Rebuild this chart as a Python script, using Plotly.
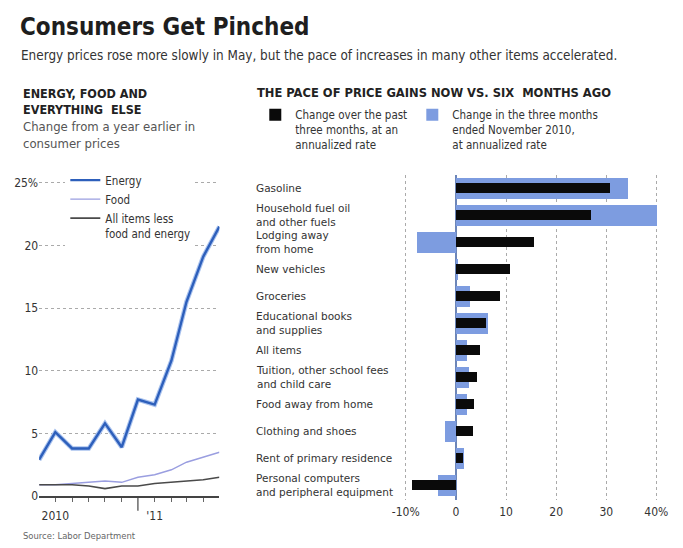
import plotly.graph_objects as go

W, H = 683, 548
def px(x): return x / W
def py(y): return 1 - y / H

FONT = "Liberation Sans Narrow, DejaVu Sans Condensed, Arial Narrow, Liberation Sans, sans-serif"
WIDE = "DejaVu Sans, Verdana, sans-serif"

# ---- Left chart data (year-over-year change, %) ----
months = ["2010-06-01", "2010-07-01", "2010-08-01", "2010-09-01", "2010-10-01", "2010-11-01",
          "2010-12-01", "2011-01-01", "2011-02-01", "2011-03-01", "2011-04-01", "2011-05-01"]
energy = [2.9, 5.1, 3.8, 3.8, 5.8, 3.9, 7.7, 7.3, 10.8, 15.5, 19.1, 21.5]
food = [0.9, 0.9, 1.0, 1.1, 1.2, 1.1, 1.5, 1.7, 2.1, 2.7, 3.1, 3.5]
core = [0.9, 0.9, 0.9, 0.8, 0.6, 0.8, 0.8, 1.0, 1.1, 1.2, 1.3, 1.5]
left_yticks = [0, 5, 10, 15, 20, 25]
left_ytext = ["0", "5", "10", "15", "20", "25%"]
left_xticks = ["2010-07-01", "2010-08-01", "2010-09-01", "2010-10-01", "2010-11-01",
               "2011-01-01", "2011-02-01", "2011-03-01", "2011-04-01"]
left_xtext = ["2010", "", "", "", "", "'11", "", "", ""]

# ---- Right chart data (annualized % change) ----
categories = ["Gasoline", "Household fuel oil<br>and other fuels", "Lodging away<br>from home",
              "New vehicles", "Groceries", "Educational books<br>and supplies", "All items",
              "Tuition, other school fees<br>and child care", "Food away from home",
              "Clothing and shoes", "Rent of primary residence",
              "Personal computers<br>and peripheral equipment"]
recent = [30.7, 26.8, 15.5, 10.8, 8.7, 6.0, 4.8, 4.1, 3.6, 3.3, 1.3, -8.9]
nov2010 = [34.2, 40.0, -7.8, 0.3, 2.7, 6.3, 2.2, 2.6, 2.2, -2.3, 1.5, -3.7]
right_xticks = [-10, 0, 10, 20, 30, 40]
right_xtext = ["-10%", "0", "10", "20", "30", "40%"]

BLUE_BAR = "#7d9ce0"

fig = go.Figure()

# light halo under the energy line
fig.add_trace(go.Scatter(x=months, y=energy, mode="lines", showlegend=False, hoverinfo="skip",
                         line=dict(color="#a9c2ee", width=4.6), xaxis="x", yaxis="y"))
fig.add_trace(go.Scatter(x=months, y=energy, mode="lines", name="Energy",
                         line=dict(color="#2d5fbb", width=2.4), xaxis="x", yaxis="y",
                         legend="legend"))
fig.add_trace(go.Scatter(x=months, y=food, mode="lines", name="Food",
                         line=dict(color="#9a9ee0", width=1.4), xaxis="x", yaxis="y",
                         legend="legend"))
fig.add_trace(go.Scatter(x=months, y=core, mode="lines",
                         name="All items less<br>food and energy",
                         line=dict(color="#4a4a4a", width=1.6), xaxis="x", yaxis="y",
                         legend="legend"))

fig.add_trace(go.Bar(y=categories, x=nov2010, orientation="h", width=0.78,
                     marker=dict(color=BLUE_BAR, line=dict(width=0)),
                     name="Change in the three months<br>ended November 2010,<br>at annualized rate",
                     xaxis="x2", yaxis="y2", legend="legend3"))
fig.add_trace(go.Bar(y=categories, x=recent, orientation="h", width=0.37,
                     marker=dict(color="#0a0a0a", line=dict(width=0)),
                     name="Change over the past<br>three months, at an<br>annualized rate",
                     xaxis="x2", yaxis="y2", legend="legend2"))

annotations = [
    dict(text="<b>Consumers Get Pinched</b>", x=px(6), y=py(22), xref="paper", yref="paper",
         xanchor="left", yanchor="middle", showarrow=False,
         font=dict(family=FONT, size=24, color="#1e1e1e")),
    dict(text="Energy prices rose more slowly in May, but the pace of increases in many other items accelerated.",
         x=px(7), y=py(51), xref="paper", yref="paper", xanchor="left", yanchor="middle",
         showarrow=False, font=dict(family=FONT, size=13.4, color="#333")),
    dict(text="<b>ENERGY, FOOD AND<br>EVERYTHING  ELSE</b>", x=px(9), y=py(80),
         xref="paper", yref="paper", xanchor="left", yanchor="top", align="left",
         showarrow=False, font=dict(family=FONT, size=12.5, color="#222")),
    dict(text="Change from a year earlier in<br>consumer prices", x=px(9), y=py(114),
         xref="paper", yref="paper", xanchor="left", yanchor="top", align="left",
         showarrow=False, font=dict(family=FONT, size=13, color="#555")),
    dict(text="<b>THE PACE OF PRICE GAINS NOW VS. SIX  MONTHS AGO</b>", x=px(251), y=py(89),
         xref="paper", yref="paper", xanchor="left", yanchor="middle",
         showarrow=False, font=dict(family=FONT, size=12.8, color="#222")),
    dict(text="Source: Labor Department", x=px(9), y=py(542), xref="paper", yref="paper",
         xanchor="left", yanchor="middle", showarrow=False,
         font=dict(family=FONT, size=9.4, color="#666")),
]
for c in categories:
    annotations.append(dict(text=c, x=px(250), y=c, xref="paper", yref="y2",
                            xanchor="left", yanchor="middle", align="left", showarrow=False,
                            font=dict(family=WIDE, size=10.5, color="#333")))

shapes = [
    dict(type="line", xref="x", yref="paper", x0="2010-12-01", x1="2010-12-01",
         y0=py(502), y1=py(517), line=dict(color="#444", width=1.2)),
]

leg_common = dict(xanchor="left", yanchor="top",
                  font=dict(size=11.5, color="#333"), tracegroupgap=0, itemwidth=30,
                  traceorder="normal", valign="top")

fig.update_layout(
    width=W, height=H, margin=dict(l=0, r=0, t=0, b=0),
    paper_bgcolor="white", plot_bgcolor="white",
    font=dict(family=FONT, color="#333"),
    barmode="overlay", bargap=0,
    annotations=annotations, shapes=shapes,
    xaxis=dict(domain=[px(28), px(214)], type="date", range=[months[0], months[-1]],
               tickvals=left_xticks, ticktext=left_xtext, ticks="outside", ticklen=4,
               tickcolor="#666", showgrid=False, showline=True, linecolor="#444",
               linewidth=1.5, zeroline=False, tickfont=dict(size=12, color="#333"),
               ticklabelstandoff=4, anchor="y"),
    yaxis=dict(domain=[py(502), py(179.7)], range=[0, 25.1], tickvals=left_yticks,
               ticktext=left_ytext, showgrid=True, gridcolor="#aaa", griddash="dot",
               gridwidth=1, zeroline=False, showline=False, ticks="",
               tickfont=dict(size=12, color="#333"), anchor="x"),
    xaxis2=dict(domain=[px(404), px(668)], range=[-10.44, 40.62], tickvals=right_xticks,
                ticktext=right_xtext, showgrid=True, gridcolor="#aaa", griddash="dot",
                gridwidth=1, zeroline=True, zerolinecolor="#6d86b8", zerolinewidth=1.5,
                showline=False, ticks="", tickfont=dict(size=12, color="#333"),
                ticklabelstandoff=3, anchor="y2"),
    yaxis2=dict(domain=[py(506), py(173)], type="category", categoryorder="array",
                categoryarray=categories, autorange="reversed", showticklabels=False,
                showgrid=False, zeroline=False, showline=False, ticks="", anchor="x2"),
    legend=dict(x=px(55), y=py(164), bgcolor="white", **leg_common),
    legend2=dict(x=px(251), y=py(97), bgcolor="rgba(0,0,0,0)", **leg_common),
    legend3=dict(x=px(413), y=py(97), bgcolor="rgba(0,0,0,0)", **leg_common),
)

fig.write_html("out.html")
